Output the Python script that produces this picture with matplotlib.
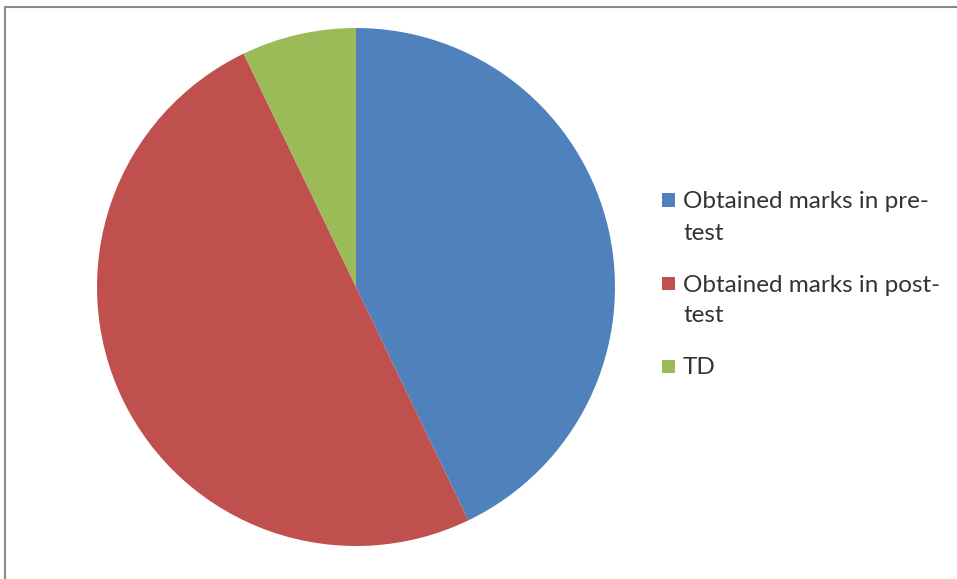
import matplotlib
matplotlib.use("Agg")
import matplotlib.pyplot as plt
from matplotlib.lines import Line2D
from matplotlib.patches import Rectangle

categories = ["Obtained marks in pre-\ntest", "Obtained marks in post-\ntest", "TD"]
values = [30, 35, 5]
colors = ["#4F81BD", "#C0504D", "#9BBB59"]

W, H = 957, 579
fig = plt.figure(figsize=(W / 100, H / 100), dpi=100)
fig.patch.set_facecolor("white")

cx, cy, r = 356, 287, 259
ax = fig.add_axes([(cx - r) / W, (H - cy - r) / H, 2 * r / W, 2 * r / H])
wedges, _ = ax.pie(values, colors=colors, startangle=90, counterclock=False,
                   radius=1.0, wedgeprops=dict(linewidth=0))
ax.set_xlim(-1, 1)
ax.set_ylim(-1, 1)
ax.set_aspect("equal")
ax.axis("off")

# legend drawn in pixel layout: square aligned to first line of each wrapped label
line_step = 31
entry_gap = 52
y_center = 200
sq = 13
for label, col in zip(categories, colors):
    fig.add_artist(Rectangle((662 / W, 1 - (y_center + sq / 2) / H), sq / W, sq / H,
                             transform=fig.transFigure, facecolor=col, edgecolor="none"))
    lines = label.split("\n")
    yy = y_center
    for i, line in enumerate(lines):
        fig.text(683 / W, 1 - yy / H, line, ha="left", va="center_baseline",
                 family="Lato", size=17.5, color="#333333")
        if i < len(lines) - 1:
            yy += line_step
    y_center = yy + entry_gap

fig.add_artist(Line2D([5 / W, 1], [1 - 7 / H, 1 - 7 / H], color="#8a8a8a", lw=1.5))
fig.add_artist(Line2D([5 / W, 5 / W], [0, 1 - 7 / H], color="#8a8a8a", lw=1.5))

fig.savefig("out.png", dpi=100)
